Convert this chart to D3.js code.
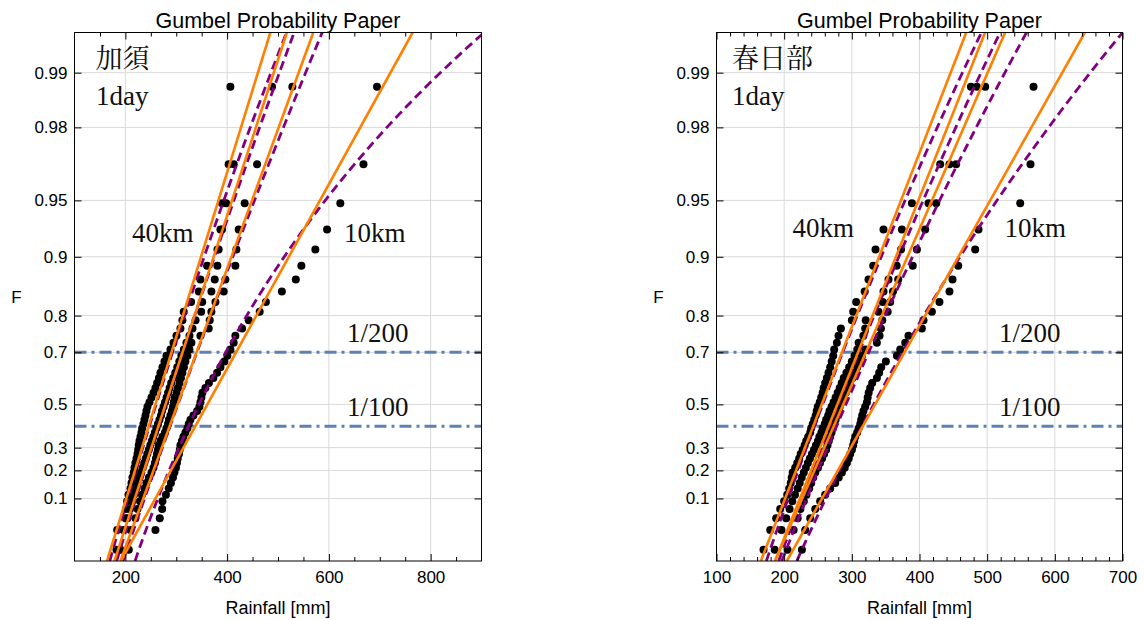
<!DOCTYPE html>
<html>
<head>
<meta charset="utf-8">
<script src="https://cdn.jsdelivr.net/npm/d3@7"></script>
<style>
  body { margin: 0; background: #fff; }
  svg { display: block; }
  .note { font-family: "Liberation Serif", "Noto Serif CJK JP", "Noto Sans CJK JP", serif; font-size: 27px; fill: #111; }
</style>
</head>
<body>
<svg id="chart" width="1144" height="620"></svg>
<script>
// Probability axis (Gumbel reduced variate), labels shown as F
var fTicks = [0.1, 0.2, 0.3, 0.5, 0.7, 0.8, 0.9, 0.95, 0.98, 0.99];
var fRange = [0.006, 0.994];
var levelF = [0.7, 0.4];
var levelLabels = ['1/200', '1/100'];

// 加須 1day annual maximum rainfall [mm], sorted (three 40km series + 10km)
var kazo40a = [182.5, 183.9, 200.2, 201.2, 203.5, 206.1, 210.0, 212.0, 213.9, 216.5,
               217.9, 219.8, 221.8, 223.8, 225.1, 226.3, 227.7, 229.6, 231.6, 233.0,
               235.5, 237.5, 239.5, 241.4, 243.4, 247.3, 251.3, 255.2, 259.1, 262.4,
               266.0, 268.9, 272.9, 276.8, 280.7, 288.6, 294.5, 300.4, 308.2, 312.1,
               314.7, 329.2, 344.2, 347.5, 360.6, 381.0, 386.8, 390.0, 403.0, 406.4];
var kazo40b = [188, 196, 204, 209, 213, 217, 221, 224, 227, 231,
               234, 237, 240, 243, 246, 249, 252, 255, 258, 261,
               264, 267, 270, 272, 275, 278, 281, 284, 287, 290,
               294, 298, 302, 306, 310, 315, 320, 326, 332, 338,
               349, 351, 369.1, 375.6, 380.9, 383.4, 390, 398, 413, 488.3];
var kazo40c = [190.4, 210.0, 219.8, 223.8, 228.7, 232.6, 237.5, 241.4, 246.3, 251.3,
               255.2, 258.1, 260.1, 262.1, 264.0, 265.6, 268.9, 272.9, 277.8, 280.7,
               283.7, 285.6, 288.6, 291.5, 293.5, 295.1, 297.4, 300.4, 303.3, 306.3,
               309.2, 312.1, 315.1, 318.0, 322.0, 325.9, 329.8, 347.5, 363.8, 365.8,
               369.1, 377.0, 393.3, 396.6, 416.2, 418.2, 422.7, 434.5, 458.9, 528.2];
var kazo10 = [206.7, 259.1, 267.6, 272.3, 272.9, 279.7, 285.2, 289.5, 293.5, 296.4,
              299.4, 301.3, 302.9, 305.3, 306.9, 308.2, 311.2, 314.1, 318.0, 322.0,
              324.5, 327.9, 333.7, 341.0, 345.5, 347.5, 349.5, 351.4, 357.3, 364.2,
              373.0, 380.3, 386.8, 394.6, 400.5, 406.4, 412.9, 416.2, 429.4, 442.4,
              464.0, 476.2, 507.6, 535.0, 545.9, 573.4, 596.4, 622.5, 668.0, 694.6];

// 春日部 1day annual maximum rainfall [mm], sorted
var kasukabe40a = [169.5, 179.4, 188.2, 194.1, 200.0, 204.5, 207.4, 209.7, 211.1, 212.6,
                   216.3, 219.3, 222.2, 224.4, 227.4, 230.3, 232.6, 235.5, 238.5, 239.9,
                   242.2, 244.4, 246.6, 248.1, 249.6, 252.5, 254.7, 256.9, 258.4, 260.6,
                   263.1, 265.5, 268.0, 270.2, 272.5, 273.9, 277.9, 280.3, 283.8, 300.1,
                   302.0, 306.4, 319.0, 324.6, 331.6, 335.0, 346.8, 388.8, 430.6, 476.0];
var kasukabe40b = [186, 196, 203, 208, 212, 216, 220, 223, 226, 229,
                   232, 235, 238, 241, 244, 247, 250, 252, 255, 257,
                   260, 262, 265, 267, 270, 273, 276, 279, 282, 285,
                   288, 292, 296, 300, 304, 308, 310, 317, 319.7, 320.5,
                   339.4, 345.6, 346.8, 354.2, 366.3, 372.7, 374, 413.3, 444.3, 484.8];
var kasukabe40c = [205, 214, 220, 224, 229, 233, 237, 240, 243, 246,
                   250, 253, 256, 259, 262, 264, 266, 268, 270, 272,
                   274, 276, 278, 280, 282, 285, 288, 291, 294, 297,
                   301, 304, 308, 311, 315, 320, 337, 341, 343, 345,
                   353, 356.7, 360.8, 368.5, 390, 396.2, 408.4, 424.7, 454.2, 497.1];
var kasukabe10 = [226.2, 231.1, 238.5, 245.9, 253.2, 260.6, 268.0, 275.4, 280.6, 285.3,
                  289.5, 292.7, 295.4, 297.6, 300.1, 302.0, 303.5, 305.0, 307.9, 310.1,
                  312.4, 313.8, 315.3, 317.2, 319.7, 322.3, 323.4, 324.9, 327.1, 330.1,
                  337.0, 340.4, 343.4, 350.3, 366.6, 371.5, 378.9, 383.7, 403.5, 405.9,
                  418.3, 429.5, 444.3, 448.8, 457.2, 482.3, 487.2, 548.8, 564.0, 568.5];

// Fitted distributions, one entry per series (40a, 40b, 40c, 10)
var kazoGumbelMu = [241.6, 260.5, 282.0, 330.0];
var kazoGumbelBeta = [47.6, 50.25, 56.2, 85.0];
var kazoGevMu = [243, 261, 283, 318];
var kazoGevSigma = [47, 49, 55, 70];
var kazoGevXi = [0.05, 0.03, 0.03, 0.18];

var kasukabeGumbelMu = [239.0, 261.7, 268.8, 310.5];
var kasukabeGumbelBeta = [45.0, 46.0, 50.4, 65.3];
var kasukabeGevMu = [241.0, 263.2, 273.2, 309.9];
var kasukabeGevSigma = [43.0, 45.1, 48.9, 60.1];
var kasukabeGevXi = [0.05, 0.04, 0.05, 0.09];

// Gumbel reduced variate
function gumbelY(F) { return -Math.log(-Math.log(F)); }

function gumbelPaper() {

    // Set default values
    var width = 400,
        height = 528,
        xDomain = [100, 900],
        xMajor = [],
        xMinor = [],
        title = 'Gumbel Probability Paper',
        station = '',
        duration = '1day',
        notes = {}, // pixel offsets of the text notes inside the frame
        id = 'panel';

    function chart(context) {
        context.each(function(data) {
            var g = d3.select(this);

            var x = d3.scaleLinear().domain(xDomain).range([0, width]);
            var y = d3.scaleLinear().domain(fRange.map(gumbelY)).range([height, 0]);
            var yTicks = fTicks.map(gumbelY);

            g.append('clipPath').attr('id', id + '-clip')
                .append('rect').attr('width', width).attr('height', height);

            // Grid
            var grid = g.append('g').attr('stroke', '#d9d9d9').attr('stroke-width', 1);
            grid.selectAll('line.gx').data(xMajor).enter().append('line')
                .attr('x1', x).attr('x2', x).attr('y1', 0).attr('y2', height);
            grid.selectAll('line.gy').data(yTicks).enter().append('line')
                .attr('y1', y).attr('y2', y).attr('x1', 0).attr('x2', width);

            // Return period levels
            g.append('g').selectAll('line').data(levelF).enter().append('line')
                .attr('x1', 0).attr('x2', width)
                .attr('y1', function(f) { return y(gumbelY(f)); })
                .attr('y2', function(f) { return y(gumbelY(f)); })
                .attr('stroke', '#5e81b5').attr('stroke-width', 3)
                .attr('stroke-dasharray', '12,5,3,5');

            // Data points, Cunnane plotting position
            var pts = [];
            data.series.forEach(function(s) {
                s.forEach(function(v, i) {
                    pts.push({v: v, F: (i + 1 - 0.4) / (s.length + 0.2)});
                });
            });
            g.append('g').selectAll('circle').data(pts).enter().append('circle')
                .attr('cx', function(d) { return x(d.v); })
                .attr('cy', function(d) { return y(gumbelY(d.F)); })
                .attr('r', 4)
                .attr('fill', '#000');

            var lines = g.append('g').attr('clip-path', 'url(#' + id + '-clip)').attr('fill', 'none');
            var yy = d3.range(y.domain()[0], y.domain()[1] + 0.05, 0.05);

            // GEV fits
            var fitLine = d3.line()
                .x(function(d) { return x(d[0]); })
                .y(function(d) { return y(d[1]); });
            lines.selectAll('path.gev').data(data.gevMu).enter().append('path')
                .attr('d', function(mu, k) {
                    var s = data.gevSigma[k], xi = data.gevXi[k];
                    return fitLine(yy.map(function(t) {
                        return [mu + s * (Math.exp(xi * t) - 1) / xi, t];
                    }));
                })
                .attr('stroke', '#800080').attr('stroke-width', 2.8)
                .attr('stroke-dasharray', '9,5');

            // Gumbel fits
            lines.selectAll('path.gum').data(data.gumbelMu).enter().append('path')
                .attr('d', function(mu, k) {
                    var b = data.gumbelBeta[k];
                    return fitLine(y.domain().map(function(t) { return [mu + b * t, t]; }));
                })
                .attr('stroke', '#ff7f00').attr('stroke-width', 2.6);

            // Frame and ticks
            g.append('rect').attr('width', width).attr('height', height)
                .attr('fill', 'none').attr('stroke', '#000');

            var axes = [
                d3.axisBottom(x).tickValues(xMajor).tickSize(-7).tickPadding(10),
                d3.axisBottom(x).tickValues(xMinor).tickSize(-4).tickFormat(''),
                d3.axisTop(x).tickValues(xMajor).tickSize(-7).tickFormat(''),
                d3.axisTop(x).tickValues(xMinor).tickSize(-4).tickFormat(''),
                d3.axisLeft(y).tickValues(yTicks).tickSize(-7).tickPadding(7)
                    .tickFormat(function(d, i) { return fTicks[i]; }),
                d3.axisRight(y).tickValues(yTicks).tickSize(-7).tickFormat('')
            ];
            var shift = [[0, height], [0, height], [0, 0], [0, 0], [0, 0], [width, 0]];
            axes.forEach(function(ax, k) {
                var a = g.append('g')
                    .attr('transform', 'translate(' + shift[k] + ')')
                    .call(ax);
                a.select('.domain').remove();
                a.attr('font-size', 17).attr('font-family', '"Liberation Sans", Arial, sans-serif');
                a.selectAll('line').attr('stroke', '#000');
                a.selectAll('text').attr('fill', '#000');
            });

            // Titles and labels
            var sans = '"Liberation Sans", Arial, sans-serif';
            g.append('text').attr('x', width / 2).attr('y', -4.5)
                .attr('text-anchor', 'middle').attr('font-family', sans)
                .attr('font-size', 21.5).text(title);
            g.append('text').attr('x', width / 2).attr('y', height + 53)
                .attr('text-anchor', 'middle').attr('font-family', sans)
                .attr('font-size', 18).text('Rainfall [mm]');
            g.append('text').attr('x', -58).attr('y', height / 2 + 6.5)
                .attr('text-anchor', 'middle').attr('font-family', sans)
                .attr('font-size', 17).text('F');

            g.append('text').attr('class', 'note')
                .attr('x', notes.station[0]).attr('y', notes.station[1]).text(station);
            g.append('text').attr('class', 'note')
                .attr('x', notes.duration[0]).attr('y', notes.duration[1]).text(duration);
            g.append('text').attr('class', 'note')
                .attr('x', notes.km40[0]).attr('y', notes.km40[1]).text('40km');
            g.append('text').attr('class', 'note')
                .attr('x', notes.km10[0]).attr('y', notes.km10[1]).text('10km');
            g.append('g').selectAll('text').data(levelF).enter().append('text')
                .attr('class', 'note')
                .attr('x', notes.levelX)
                .attr('y', function(f) { return y(gumbelY(f)) - 10; })
                .text(function(f, i) { return levelLabels[i]; });
        });
    }

    chart.width = function(value) {
        if (!arguments.length) { return width; }
        width = value;
        return chart;
    };

    chart.height = function(value) {
        if (!arguments.length) { return height; }
        height = value;
        return chart;
    };

    chart.xDomain = function(value) {
        if (!arguments.length) { return xDomain; }
        xDomain = value;
        return chart;
    };

    chart.xMajor = function(value) {
        if (!arguments.length) { return xMajor; }
        xMajor = value;
        return chart;
    };

    chart.xMinor = function(value) {
        if (!arguments.length) { return xMinor; }
        xMinor = value;
        return chart;
    };

    chart.station = function(value) {
        if (!arguments.length) { return station; }
        station = value;
        return chart;
    };

    chart.notes = function(value) {
        if (!arguments.length) { return notes; }
        notes = value;
        return chart;
    };

    chart.id = function(value) {
        if (!arguments.length) { return id; }
        id = value;
        return chart;
    };

    return chart;
}

var svg = d3.select('#chart');

var kazoChart = gumbelPaper()
    .id('kazo')
    .width(407)
    .height(528.5)
    .xDomain([100, 900])
    .xMajor([200, 400, 600, 800])
    .xMinor(d3.range(150, 900, 50).filter(function(v) { return v % 200 !== 0; }))
    .station('加須')
    .notes({station: [21, 35.5], duration: [21.5, 72.5], km40: [57.5, 209.5], km10: [269.5, 209.5], levelX: 272.5});

var kasukabeChart = gumbelPaper()
    .id('kasukabe')
    .width(406)
    .height(528.5)
    .xDomain([100, 700])
    .xMajor([100, 200, 300, 400, 500, 600, 700])
    .xMinor(d3.range(120, 700, 20).filter(function(v) { return v % 100 !== 0; }))
    .station('春日部')
    .notes({station: [15.5, 35.5], duration: [15.5, 72.5], km40: [76, 204.5], km10: [288, 204.5], levelX: 282.5});

svg.append('g')
    .attr('transform', 'translate(74.5,32.5)')
    .datum({
        series: [kazo40a, kazo40b, kazo40c, kazo10],
        gumbelMu: kazoGumbelMu, gumbelBeta: kazoGumbelBeta,
        gevMu: kazoGevMu, gevSigma: kazoGevSigma, gevXi: kazoGevXi
    })
    .call(kazoChart);

svg.append('g')
    .attr('transform', 'translate(716.5,32.5)')
    .datum({
        series: [kasukabe40a, kasukabe40b, kasukabe40c, kasukabe10],
        gumbelMu: kasukabeGumbelMu, gumbelBeta: kasukabeGumbelBeta,
        gevMu: kasukabeGevMu, gevSigma: kasukabeGevSigma, gevXi: kasukabeGevXi
    })
    .call(kasukabeChart);
</script>
</body>
</html>
